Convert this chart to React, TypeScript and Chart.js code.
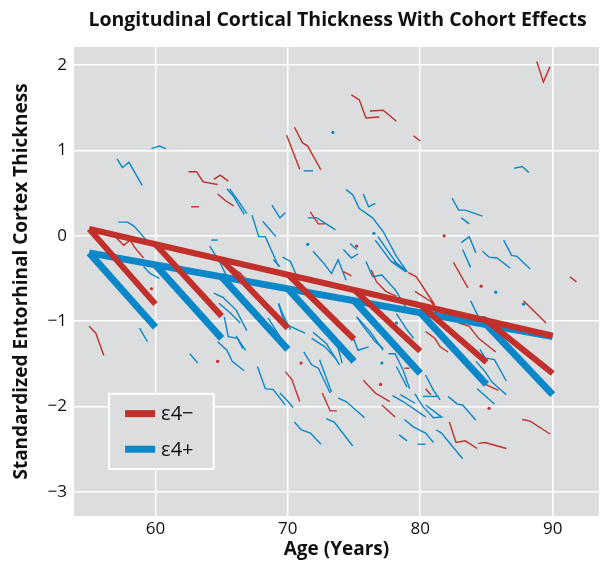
import React, { useEffect, useRef } from "react";
import { Chart, registerables } from "chart.js";

Chart.register(...registerables);

const RED = "#c1302b";
const BLUE = "#0a87c9";
const BG = "#dcdddf";
const FONT = "'Open Sans', 'DejaVu Sans', sans-serif";

const TITLE = "Longitudinal Cortical Thickness With Cohort Effects";
const X_TITLE = "Age (Years)";
const Y_TITLE = "Standardized Entorhinal Cortex Thickness";
const LEGEND_LABELS = ["\u03b54\u2212", "\u03b54+"];

const xTicks = [60, 70, 80, 90];
const yTicks = [-3, -2, -1, 0, 1, 2];

// main (cross-sectional) lines
const mainRed: number[][] = [[55, 0.08], [90, -1.17]];
const mainBlue: number[][] = [[55, -0.2], [90, -1.18]];

// cohort (longitudinal) lines: start age, start value, end value (5 years later)
const cohortAges = [55, 60, 65, 70, 75, 80, 85];
const cohortRedStart = [0.08, -0.1, -0.28, -0.45, -0.63, -0.81, -0.99];
const cohortRedEnd = [-0.8, -0.94, -1.08, -1.21, -1.35, -1.48, -1.61];
const cohortBlueStart = [-0.2, -0.34, -0.48, -0.62, -0.76, -0.9, -1.04];
const cohortBlueEnd = [-1.07, -1.2, -1.33, -1.47, -1.61, -1.74, -1.86];
const cohortSpan = 5;

// individual trajectories
const redTrajectories: number[][][] = [
  [[62.5, 0.75], [63.1, 0.75], [63.6, 0.63], [64.7, 0.6]],
  [[64.4, 0.66], [64.9, 0.71], [65.5, 0.64]],
  [[64.7, 0.49], [65.3, 0.41], [65.9, 0.35]],
  [[62.7, 0.34], [63.3, 0.34]],
  [[56.9, 0.0], [57.6, -0.11], [58.1, -0.05], [58.4, -0.13], [59.1, -0.26]],
  [[65.7, -0.36], [66.4, -0.44], [67.1, -0.55]],
  [[74.8, 1.65], [75.4, 1.59], [75.9, 1.38], [76.9, 1.39]],
  [[76.2, 1.46], [77.2, 1.47], [78.2, 1.34]],
  [[79.5, 1.17], [80.0, 1.11]],
  [[70.5, 1.27], [71.1, 1.09], [71.5, 1.05], [72.5, 0.77]],
  [[69.9, 1.18], [70.9, 0.78]],
  [[71.7, 0.28], [72.3, 0.14], [72.8, 0.14]],
  [[76.3, -0.4], [76.7, -0.54], [77.4, -0.65], [78.2, -0.71]],
  [[74.2, -0.42], [74.8, -0.47]],
  [[79.1, -0.43], [79.7, -0.48], [81.1, -0.81]],
  [[79.6, -0.65], [81.0, -0.79]],
  [[88.8, 2.04], [89.3, 1.8], [89.8, 1.98]],
  [[82.5, -0.31], [83.6, -0.61]],
  [[91.3, -0.48], [91.8, -0.54]],
  [[55.0, -1.06], [55.5, -1.14], [56.1, -1.4]],
  [[69.8, -1.59], [70.3, -1.68], [70.9, -1.94]],
  [[72.6, -1.84], [73.2, -2.05], [73.7, -2.05]],
  [[75.7, -1.69], [76.6, -1.84], [77.7, -1.94]],
  [[77.1, -1.98], [78.1, -2.12]],
  [[87.8, -0.76], [89.5, -1.02]],
  [[87.7, -2.15], [88.3, -2.17], [89.8, -2.32]],
  [[82.2, -2.18], [82.7, -2.42], [83.4, -2.4], [84.3, -2.49]],
  [[84.4, -2.43], [84.9, -2.42], [86.5, -2.49]],
  [[84.8, -1.73], [85.9, -1.81]],
  [[80.4, -1.79], [80.8, -1.86]],
  [[80.4, -1.12], [81.1, -1.2], [81.5, -1.3], [82.1, -1.36]],
  [[82.9, -1.02], [83.7, -1.06], [84.4, -1.2], [85.7, -1.36]],
  [[80.8, -0.76], [81.3, -0.91]],
  [[78.8, -1.55], [79.2, -1.55]],
];

const redDots: number[][] = [
  [59.7, -0.62], [64.7, -1.47], [71.0, -1.49], [77.0, -1.74], [85.2, -2.02],
  [84.6, -0.59], [81.8, 0.0], [75.2, -0.12],
];

const blueTrajectories: number[][][] = [
  [[57.1, 0.9], [57.5, 0.8], [58.0, 0.86], [59.0, 0.59]],
  [[59.7, 1.02], [60.3, 1.05], [60.8, 1.02]],
  [[65.4, 0.55], [65.9, 0.46], [66.7, 0.25]],
  [[65.6, 0.55], [66.3, 0.4], [66.9, 0.26]],
  [[57.2, 0.16], [57.9, 0.16], [58.4, 0.11], [59.2, -0.03], [59.5, -0.08]],
  [[59.1, -0.36], [59.6, -0.44], [60.3, -0.5]],
  [[64.2, -0.05], [64.7, -0.05]],
  [[64.1, -0.12], [64.9, -0.32], [65.4, -0.48], [65.9, -0.63]],
  [[71.2, 0.76], [71.9, 0.76]],
  [[74.4, 0.54], [74.9, 0.48], [75.4, 0.32], [76.4, 0.21], [77.2, 0.05], [78.2, -0.24], [79.0, -0.42]],
  [[75.7, 0.49], [76.1, 0.34], [76.6, 0.38]],
  [[67.3, 0.24], [67.8, -0.01], [68.3, -0.01], [69.3, -0.36]],
  [[68.1, 0.17], [69.1, -0.01]],
  [[68.8, 0.36], [69.4, 0.21], [69.8, 0.27]],
  [[71.5, 0.21], [72.2, 0.21], [73.6, 0.07]],
  [[71.9, -0.18], [72.7, -0.32], [73.3, -0.44], [73.8, -0.28], [74.4, -0.52]],
  [[74.2, -0.16], [74.8, -0.26], [75.3, -0.21]],
  [[74.7, -0.09], [75.2, -0.16]],
  [[69.6, -0.25], [70.2, -0.3], [70.8, -0.52]],
  [[75.9, -0.3], [76.4, -0.48], [77.1, -0.46], [78.1, -0.63], [79.2, -0.91]],
  [[76.8, -0.01], [78.2, -0.32], [79.0, -0.42]],
  [[76.6, -0.05], [77.8, -0.3], [78.9, -0.42]],
  [[78.0, -0.3], [79.0, -0.42]],
  [[87.1, 0.79], [87.7, 0.81], [88.2, 0.74]],
  [[82.4, 0.44], [82.9, 0.3], [83.4, 0.3], [84.7, 0.23]],
  [[83.1, 0.21], [83.7, 0.14]],
  [[83.1, -0.08], [83.7, -0.01], [84.2, -0.2]],
  [[83.2, -0.16], [83.8, -0.37]],
  [[84.7, -0.18], [85.2, -0.25], [85.8, -0.26], [86.8, -0.38]],
  [[86.3, -0.05], [86.9, -0.23], [87.3, -0.24], [88.3, -0.39]],
  [[58.8, -1.08], [59.4, -1.24]],
  [[62.6, -1.38], [63.2, -1.49]],
  [[64.7, -1.24], [65.4, -1.34], [65.8, -1.47], [66.7, -1.58]],
  [[65.2, -0.95], [65.5, -1.18], [66.2, -1.2], [66.8, -1.34]],
  [[64.8, -0.79], [65.7, -0.91], [66.4, -1.02]],
  [[66.1, -1.17], [66.6, -1.32]],
  [[64.4, -0.67], [65.1, -0.72], [66.1, -0.87], [66.9, -1.11]],
  [[67.7, -1.53], [68.3, -1.79], [68.9, -1.8], [69.8, -1.98]],
  [[69.4, -1.84], [69.9, -1.92], [70.4, -2.01]],
  [[71.2, -1.36], [71.8, -1.51], [72.3, -1.55], [73.2, -1.84]],
  [[73.8, -1.9], [74.4, -1.94], [75.8, -2.13]],
  [[70.5, -2.18], [71.0, -2.27], [71.7, -2.31], [72.5, -2.44]],
  [[72.9, -2.14], [73.5, -2.18], [74.9, -2.46]],
  [[77.9, -1.87], [78.7, -1.94], [80.4, -2.12]],
  [[78.5, -1.86], [79.6, -1.96]],
  [[78.8, -2.15], [79.5, -2.24], [80.4, -2.31], [81.0, -2.42]],
  [[78.4, -2.33], [79.0, -2.4]],
  [[79.8, -2.44], [80.4, -2.44]],
  [[69.3, -0.8], [69.6, -0.95], [69.9, -1.04], [71.3, -1.14]],
  [[71.9, -1.13], [72.9, -1.26], [73.9, -1.51]],
  [[71.8, -1.2], [72.8, -1.3], [73.7, -1.45]],
  [[74.9, -1.18], [75.3, -1.34], [76.1, -1.3]],
  [[75.2, -0.95], [75.7, -1.06], [76.6, -1.24], [77.2, -1.32]],
  [[78.2, -1.53], [79.0, -1.77]],
  [[77.6, -1.38], [78.1, -1.38], [78.7, -1.57], [79.2, -1.79]],
  [[78.2, -0.91], [79.0, -1.1], [79.5, -1.2]],
  [[83.8, -0.76], [84.4, -0.95], [84.9, -0.95], [85.4, -1.02]],
  [[81.2, -2.27], [81.6, -2.31], [83.2, -2.61]],
  [[82.1, -1.88], [82.8, -1.97], [83.2, -1.98], [84.2, -2.16]],
  [[80.4, -1.98], [81.6, -2.12]],
  [[84.3, -1.79], [85.6, -1.97]],
  [[84.5, -1.33], [84.9, -1.43], [85.6, -1.45], [86.5, -1.7]],
  [[84.2, -1.47], [84.9, -1.59], [85.4, -1.71], [86.5, -1.86]],
  [[80.2, -1.88], [81.4, -1.88]],
  [[80.4, -1.63], [81.0, -1.81], [81.5, -1.92]],
  [[72.4, -1.06], [73.7, -1.26], [74.1, -1.49]],
  [[72.4, -1.45], [73.3, -1.83]],
  [[79.6, -1.85], [80.2, -2.0], [81.0, -2.13], [81.7, -2.12]],
  [[75.2, -0.95], [76.2, -1.12], [77.2, -1.34]],
  [[68.5, -0.96], [69.4, -1.18]],
  [[69.3, -0.79], [69.6, -0.91], [70.2, -1.1]],
  [[68.9, -0.28], [69.4, -0.36]],
  [[65.1, -0.44], [65.9, -0.63]],
];

const blueDots: number[][] = [
  [73.4, 1.21], [71.5, -0.1], [85.7, -0.66], [87.8, -0.8], [76.5, 0.03],
  [77.1, -1.49], [78.2, -1.02],
];

const toPts = (arr: number[][]) => arr.map(([x, y]) => ({ x, y }));
const minusLabel = (v: number) => (v < 0 ? "\u2212" + Math.abs(v) : String(v));

const bgPlugin = {
  id: "bgPlugin",
  beforeDraw(chart: any) {
    const { ctx, chartArea } = chart;
    ctx.save();
    ctx.fillStyle = BG;
    ctx.fillRect(chartArea.left, chartArea.top, chartArea.right - chartArea.left, chartArea.bottom - chartArea.top);
    ctx.restore();
  },
};

const titlePlugin = {
  id: "titlePlugin",
  afterDraw(chart: any) {
    const { ctx, chartArea } = chart;
    ctx.save();
    ctx.fillStyle = "#111";
    ctx.font = `bold 19.5px ${FONT}`;
    ctx.textAlign = "center";
    ctx.textBaseline = "middle";
    ctx.fillText(TITLE, (chartArea.left + chartArea.right) / 2 + 1, 20);
    ctx.restore();
  },
};

const legendPlugin = {
  id: "legendPlugin",
  afterDraw(chart: any) {
    const { ctx } = chart;
    const xs = chart.scales.x;
    const ys = chart.scales.y;
    const left = xs.getPixelForValue(56.5);
    const right = xs.getPixelForValue(64.4);
    const top = ys.getPixelForValue(-1.85);
    const bottom = ys.getPixelForValue(-2.73);
    ctx.save();
    ctx.fillStyle = BG;
    ctx.fillRect(left, top, right - left, bottom - top);
    ctx.strokeStyle = "#ffffff";
    ctx.lineWidth = 2;
    ctx.strokeRect(left, top, right - left, bottom - top);
    const colors = [RED, BLUE];
    const rowH = (bottom - top) / 2;
    colors.forEach((c, i) => {
      const cy = top + rowH * (i + 0.5) + (i === 0 ? 1 : -1);
      ctx.strokeStyle = c;
      ctx.lineWidth = 7;
      ctx.beginPath();
      ctx.moveTo(left + 16, cy);
      ctx.lineTo(left + 46, cy);
      ctx.stroke();
      ctx.fillStyle = "#111";
      ctx.font = `20px ${FONT}`;
      ctx.textAlign = "left";
      ctx.textBaseline = "middle";
      ctx.fillText(LEGEND_LABELS[i], left + 52, cy + 1);
    });
    ctx.restore();
  },
};

export default function App() {
  const ref = useRef<HTMLCanvasElement | null>(null);

  useEffect(() => {
    if (!ref.current) return;
    const datasets: any[] = [];

    datasets.push({ data: toPts(mainRed), borderColor: RED, borderWidth: 6, showLine: true, pointRadius: 0, borderCapStyle: "butt" });
    cohortAges.forEach((a, i) => {
      datasets.push({
        data: toPts([[a, cohortRedStart[i]], [a + cohortSpan, cohortRedEnd[i]]]),
        borderColor: RED, borderWidth: 6, showLine: true, pointRadius: 0, borderCapStyle: "butt",
      });
    });
    datasets.push({ data: toPts(mainBlue), borderColor: BLUE, borderWidth: 7, showLine: true, pointRadius: 0, borderCapStyle: "butt" });
    cohortAges.forEach((a, i) => {
      datasets.push({
        data: toPts([[a, cohortBlueStart[i]], [a + cohortSpan, cohortBlueEnd[i]]]),
        borderColor: BLUE, borderWidth: 7, showLine: true, pointRadius: 0, borderCapStyle: "butt",
      });
    });

    redTrajectories.forEach((t) => {
      datasets.push({ data: toPts(t), borderColor: RED, borderWidth: 1.4, showLine: true, pointRadius: 0 });
    });
    blueTrajectories.forEach((t) => {
      datasets.push({ data: toPts(t), borderColor: BLUE, borderWidth: 1.4, showLine: true, pointRadius: 0 });
    });
    datasets.push({ data: toPts(redDots), backgroundColor: RED, borderWidth: 0, showLine: false, pointRadius: 1.6 });
    datasets.push({ data: toPts(blueDots), backgroundColor: BLUE, borderWidth: 0, showLine: false, pointRadius: 1.6 });

    const chart = new Chart(ref.current, {
      type: "scatter",
      data: { datasets },
      options: {
        responsive: false,
        animation: false,
        devicePixelRatio: 1,
        layout: { padding: { left: 0, right: 3, top: 47, bottom: 0 } },
        plugins: { legend: { display: false }, tooltip: { enabled: false }, title: { display: false } },
        scales: {
          x: {
            type: "linear",
            min: 53.85,
            max: 93.5,
            afterBuildTicks: (s: any) => { s.ticks = xTicks.map((v) => ({ value: v })); },
            afterFit: (s: any) => { s.height = 47; },
            grid: { color: "#ffffff", lineWidth: 1.5, drawTicks: false },
            border: { display: false },
            ticks: { color: "#111", font: { family: FONT, size: 17 }, padding: 3, callback: (v: any) => minusLabel(Number(v)) },
            title: { display: true, text: X_TITLE, color: "#111", font: { family: FONT, size: 19, weight: "bold" }, padding: { top: 0, bottom: 1.6 } },
          },
          y: {
            type: "linear",
            min: -3.28,
            max: 2.21,
            afterBuildTicks: (s: any) => { s.ticks = yTicks.map((v) => ({ value: v })); },
            afterFit: (s: any) => { s.width = 74; },
            grid: { color: "#ffffff", lineWidth: 1.5, drawTicks: false },
            border: { display: false },
            ticks: { color: "#111", font: { family: FONT, size: 17 }, padding: 7, callback: (v: any) => minusLabel(Number(v)) },
            title: { display: true, text: Y_TITLE, color: "#111", font: { family: FONT, size: 19, weight: "bold" }, padding: { top: 10.5, bottom: 0 } },
          },
        },
      },
      plugins: [bgPlugin, titlePlugin, legendPlugin],
    } as any);
    return () => chart.destroy();
  }, []);

  return (
    <div style={{ position: "fixed", left: 0, top: 0, width: 603, height: 563, background: "#fff" }}>
      <canvas ref={ref} width={603} height={563} style={{ display: "block" }} />
    </div>
  );
}
